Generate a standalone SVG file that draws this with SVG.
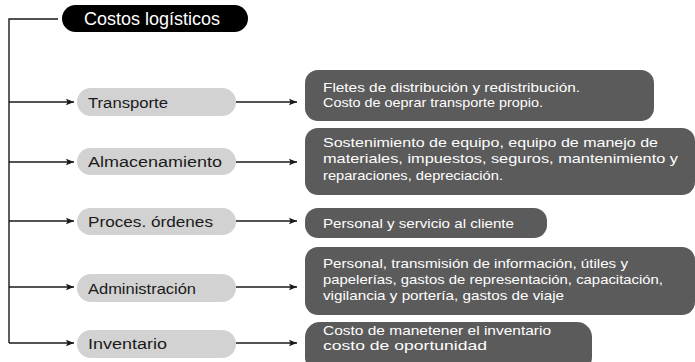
<svg xmlns="http://www.w3.org/2000/svg" width="695" height="362" viewBox="0 0 695 362">
<defs>
<style>
.pill{fill:#d2d2d2}
.box{fill:#5b5b5b}
.pt{font-family:"Liberation Sans","Noto Sans",sans-serif;font-size:15.5px;fill:#1a1a1a}
.bt{font-family:"Liberation Sans","Noto Sans",sans-serif;font-size:13.6px;fill:#ffffff}
.ln{stroke:#1a1a1a;stroke-width:1.4;fill:none}
</style>
<marker id="ah" viewBox="0 0 8 8" refX="8" refY="4" markerWidth="8" markerHeight="8" markerUnits="userSpaceOnUse" orient="auto">
<path d="M0,0.8 L8,4 L0,7.2 L1.5,4 Z" fill="#1a1a1a"/>
</marker>
</defs>
<rect width="695" height="362" fill="#ffffff"/>
<g id="connectors">
<path class="ln" d="M58,19 H9 V343"/>
<path class="ln" d="M9,102 H74" marker-end="url(#ah)"/>
<path class="ln" d="M9,162 H74" marker-end="url(#ah)"/>
<path class="ln" d="M9,221 H74" marker-end="url(#ah)"/>
<path class="ln" d="M9,287 H74" marker-end="url(#ah)"/>
<path class="ln" d="M9,343 H74" marker-end="url(#ah)"/>
<path class="ln" d="M236,102 H297" marker-end="url(#ah)"/>
<path class="ln" d="M236,162 H297" marker-end="url(#ah)"/>
<path class="ln" d="M236,221 H297" marker-end="url(#ah)"/>
<path class="ln" d="M236,287 H297" marker-end="url(#ah)"/>
<path class="ln" d="M236,343 H297" marker-end="url(#ah)"/>
</g>
<g id="title">
<rect x="62" y="5" width="186" height="27" rx="13.5" fill="#000000"/>
<text x="84" y="25" font-family="'Liberation Sans','Noto Sans',sans-serif" font-size="18.5" fill="#ffffff" textLength="136" lengthAdjust="spacingAndGlyphs">Costos logísticos</text>
</g>
<g id="transporte">
<rect class="pill" x="77" y="88" width="159" height="28" rx="14"/>
<text class="pt" x="88" y="107.5" textLength="80" lengthAdjust="spacingAndGlyphs">Transporte</text>
</g>
<g id="almacenamiento">
<rect class="pill" x="77" y="148" width="159" height="27" rx="13.5"/>
<text class="pt" x="88" y="166.5" textLength="134" lengthAdjust="spacingAndGlyphs">Almacenamiento</text>
</g>
<g id="proces">
<rect class="pill" x="77" y="208" width="159" height="27" rx="13.5"/>
<text class="pt" x="88" y="226.5" textLength="125" lengthAdjust="spacingAndGlyphs">Proces. órdenes</text>
</g>
<g id="administracion">
<rect class="pill" x="77" y="274" width="159" height="28" rx="14"/>
<text class="pt" x="88" y="293.5" textLength="108" lengthAdjust="spacingAndGlyphs">Administración</text>
</g>
<g id="inventario">
<rect class="pill" x="77" y="330" width="159" height="28" rx="14"/>
<text class="pt" x="88" y="349" textLength="79" lengthAdjust="spacingAndGlyphs">Inventario</text>
</g>
<g id="d-transporte">
<rect class="box" x="305" y="70" width="349" height="51" rx="13"/>
<text class="bt" x="323" y="91.5" textLength="257" lengthAdjust="spacingAndGlyphs">Fletes de distribución y redistribución.</text>
<text class="bt" x="323" y="107" textLength="220" lengthAdjust="spacingAndGlyphs">Costo de oeprar transporte propio.</text>
</g>
<g id="d-almacenamiento">
<rect class="box" x="305" y="128" width="390" height="67" rx="13"/>
<text class="bt" x="323" y="147" textLength="335" lengthAdjust="spacingAndGlyphs">Sostenimiento de equipo, equipo de manejo de</text>
<text class="bt" x="323" y="163" textLength="355" lengthAdjust="spacingAndGlyphs">materiales, impuestos, seguros, mantenimiento y</text>
<text class="bt" x="323" y="179.5" textLength="180" lengthAdjust="spacingAndGlyphs">reparaciones, depreciación.</text>
</g>
<g id="d-proces">
<rect class="box" x="305" y="208" width="242" height="30" rx="13"/>
<text class="bt" x="323" y="228" textLength="191" lengthAdjust="spacingAndGlyphs">Personal y servicio al cliente</text>
</g>
<g id="d-administracion">
<rect class="box" x="305" y="247" width="390" height="68" rx="13"/>
<text class="bt" x="323" y="268" textLength="305" lengthAdjust="spacingAndGlyphs">Personal, transmisión de información, útiles y</text>
<text class="bt" x="323" y="284" textLength="340" lengthAdjust="spacingAndGlyphs">papelerías, gastos de representación, capacitación,</text>
<text class="bt" x="323" y="300" textLength="241" lengthAdjust="spacingAndGlyphs">vigilancia y portería, gastos de viaje</text>
</g>
<g id="d-inventario">
<rect class="box" x="305" y="322" width="287" height="50" rx="15"/>
<text class="bt" x="323" y="335" textLength="228" lengthAdjust="spacingAndGlyphs">Costo de manetener el inventario</text>
<text class="bt" x="323" y="350" textLength="164" lengthAdjust="spacingAndGlyphs">costo de oportunidad</text>
</g>
</svg>
